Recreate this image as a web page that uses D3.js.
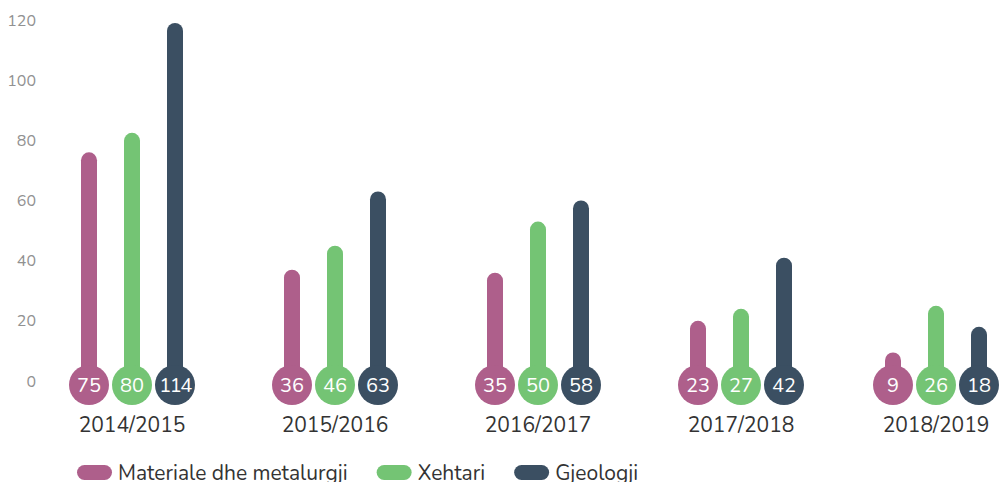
<!DOCTYPE html>
<html>
<head>
<meta charset="utf-8">
<script src="https://cdn.jsdelivr.net/npm/d3@7"></script>
<style>
  body { margin: 0; background: #fff; }
  svg { display: block; font-family: Nunito, Lato, "Open Sans", sans-serif; }
</style>
</head>
<body>
<svg width="1002" height="482"></svg>
<script>
var categories = ["2014/2015", "2015/2016", "2016/2017", "2017/2018", "2018/2019"];
var seriesNames = ["Materiale dhe metalurgji", "Xehtari", "Gjeologji"];
var colors = ["#ae5f8b", "#74c474", "#3b4f62"];
var yTicks = [0, 20, 40, 60, 80, 100, 120];

// numbers printed in the circles
var labelMateriale = [75, 36, 35, 23, 9];
var labelXehtari = [80, 46, 50, 27, 26];
var labelGjeologji = [114, 63, 58, 42, 18];

// where the bar tops sit on the y axis
var barMateriale = [76, 37, 36, 20, 9.5];
var barXehtari = [82.5, 45, 53, 24, 25];
var barGjeologji = [119, 63, 60, 41, 18];

var labels = [labelMateriale, labelXehtari, labelGjeologji];
var bars = [barMateriale, barXehtari, barGjeologji];

var svg = d3.select("svg"),
	width = +svg.attr("width"),
	height = +svg.attr("height");

var y = d3.scaleLinear().domain([0, 120]).range([381, 20]);

var x0 = d3.scaleBand().domain(categories).range([30.5, 1045.5]);
var x1 = d3.scaleBand().domain(seriesNames).range([-64.5, 64.5]);
var r = 20, barW = 16, dotY = y(0) + 4;

function groupX(cat){
	var cx = x0(cat) + x0.bandwidth() / 2;
	// keep the last group inside the picture
	return Math.min(cx, width - 3 - r - x1.bandwidth());
}

// y axis labels
var yAxis = d3.axisLeft(y).tickValues(yTicks).tickSize(0).tickPadding(0);
svg.append("g")
	.attr("transform", "translate(36,0)")
	.call(yAxis)
	.call(function(g){
		g.select(".domain").remove();
		g.selectAll("text")
			.attr("fill", "#919191")
			.style("font-size", "16px")
			.style("font-family", "Nunito, Lato, sans-serif");
	});

var groups = svg.selectAll("g.grp")
	.data(categories)
	.enter().append("g")
	.attr("class", "grp")
	.attr("transform", function(d){ return "translate(" + groupX(d) + ",0)"; });

seriesNames.forEach(function(s, si){
	var cx = x1(s) + x1.bandwidth() / 2;
	groups.append("rect")
		.attr("x", cx - barW / 2)
		.attr("y", function(d, i){ return y(bars[si][i]); })
		.attr("width", barW)
		.attr("height", function(d, i){ return dotY - y(bars[si][i]); })
		.attr("rx", barW / 2)
		.attr("fill", colors[si]);
	groups.append("circle")
		.attr("cx", cx)
		.attr("cy", dotY)
		.attr("r", r)
		.attr("fill", colors[si]);
	groups.append("text")
		.attr("x", cx)
		.attr("y", dotY)
		.attr("dy", "0.35em")
		.attr("text-anchor", "middle")
		.attr("fill", "#fff")
		.style("font-size", "20px")
		.style("letter-spacing", function(d, i){ return labels[si][i] > 99 ? "-1.5px" : "0px"; })
		.text(function(d, i){ return labels[si][i]; });
});

groups.append("text")
	.attr("x", 0)
	.attr("y", 431.5)
	.attr("text-anchor", "middle")
	.attr("fill", "#333")
	.style("font-size", "21px")
	.text(function(d){ return d; });

// legend
var legend = svg.append("g").attr("transform", "translate(77,472.5)");
var lx = 0;
seriesNames.forEach(function(s, si){
	var item = legend.append("g").attr("transform", "translate(" + lx + ",0)");
	item.append("rect")
		.attr("x", 0).attr("y", -7.5)
		.attr("width", 35).attr("height", 15)
		.attr("rx", 7.5)
		.attr("fill", colors[si]);
	var t = item.append("text")
		.attr("x", 41)
		.attr("dy", "0.35em")
		.attr("fill", "#333")
		.style("font-size", "21px")
		.text(s);
	lx += 41 + t.node().getComputedTextLength() + 29;
});
</script>
</body>
</html>
